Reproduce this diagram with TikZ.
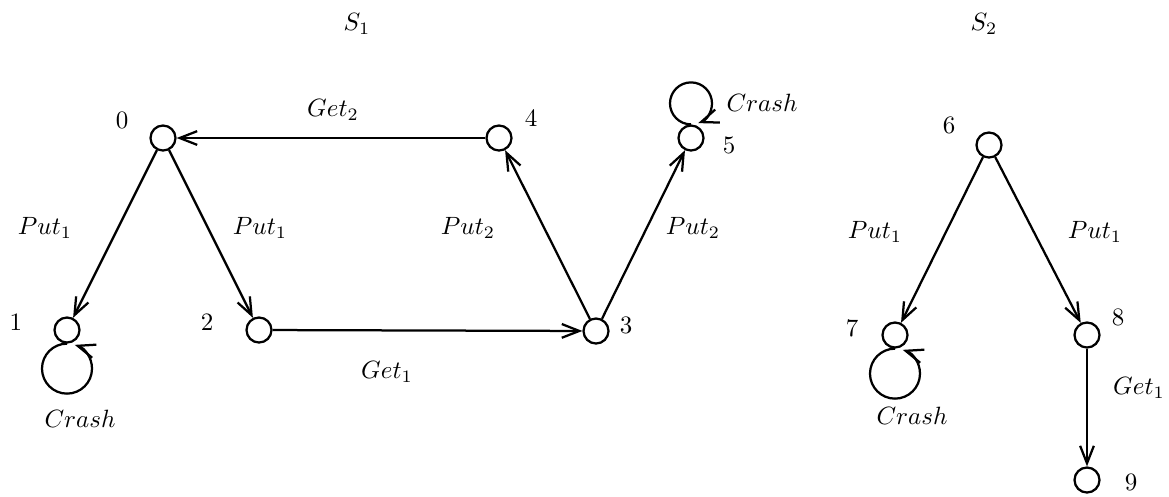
\documentclass[tikz,border=0pt]{standalone}
\usetikzlibrary{arrows.meta}

\begin{document}
\begin{tikzpicture}[x=0.4pt,y=0.4pt,>={Straight Barb[length=7pt,width=5.5pt]},
  state/.style={circle,draw,line width=0.9pt,minimum size=10pt,inner sep=0pt},
  trans/.style={->,line width=0.9pt},
  lbl/.style={inner sep=0pt}]
  \useasboundingbox (0,0) rectangle (1169,-496);
  % system S_1
  \node[lbl] (s1) at (357,-24) {$S_1$};
  \node[state] (n0) at (163,-138) {};
  \node[state] (n1) at (67,-330) {};
  \node[state] (n2) at (259,-330) {};
  \node[state] (n3) at (596,-331) {};
  \node[state] (n4) at (499,-138) {};
  \node[state] (n5) at (691,-138) {};
  \node[lbl] (l0) at (122,-120) {$0$};
  \node[lbl] (l1) at (16,-322) {$1$};
  \node[lbl] (l2) at (207,-322) {$2$};
  \node[lbl] (l3) at (626,-325) {$3$};
  \node[lbl] (l4) at (531,-118) {$4$};
  \node[lbl] (l5) at (729,-145) {$5$};
  \draw[trans] (n0) -- (n1);
  \draw[trans] (n0) -- (n2);
  \draw[trans] (n2) -- (n3);
  \draw[trans] (n3) -- (n4);
  \draw[trans] (n3) -- (n5);
  \draw[trans] (n4) -- (n0);
  \draw[trans] (n1.south) arc[start angle=90,end angle=432,radius=25];
  \draw[trans] (n5.north) arc[start angle=270,end angle=-70,radius=21];
  \node[lbl] (get2) at (333,-110) {$Get_2$};
  \node[lbl] (put1a) at (45,-228) {$Put_1$};
  \node[lbl] (put1b) at (260,-228) {$Put_1$};
  \node[lbl] (put2a) at (468,-228) {$Put_2$};
  \node[lbl] (put2b) at (693,-228) {$Put_2$};
  \node[lbl] (get1a) at (387,-372) {$Get_1$};
  \node[lbl] (crash1) at (80,-419) {$Crash$};
  \node[lbl] (crash5) at (762,-103) {$Crash$};
  % system S_2
  \node[lbl] (s2) at (984,-24) {$S_2$};
  \node[state] (n6) at (989,-145) {};
  \node[state] (n7) at (895,-335) {};
  \node[state] (n8) at (1087,-335) {};
  \node[state] (n9) at (1087,-480) {};
  \node[lbl] (l6) at (949,-125) {$6$};
  \node[lbl] (l7) at (852,-328) {$7$};
  \node[lbl] (l8) at (1118,-317) {$8$};
  \node[lbl] (l9) at (1131,-482) {$9$};
  \draw[trans] (n6) -- (n7);
  \draw[trans] (n6) -- (n8);
  \draw[trans] (n8) -- (n9);
  \draw[trans] (n7.south) arc[start angle=90,end angle=432,radius=25];
  \node[lbl] (put1c) at (875,-232) {$Put_1$};
  \node[lbl] (put1d) at (1095,-232) {$Put_1$};
  \node[lbl] (get1b) at (1139,-388) {$Get_1$};
  \node[lbl] (crash7) at (912,-416) {$Crash$};
\end{tikzpicture}
\end{document}
